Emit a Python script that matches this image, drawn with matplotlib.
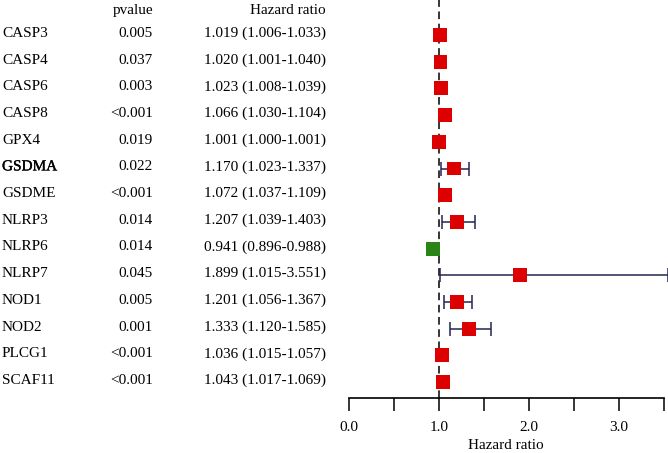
import matplotlib
matplotlib.use("Agg")
import matplotlib.pyplot as plt
import matplotlib.transforms as mtransforms
import matplotlib.patheffects as pe
import numpy as np

genes = ["CASP3", "CASP4", "CASP6", "CASP8", "GPX4", "GSDMA", "GSDME",
         "NLRP3", "NLRP6", "NLRP7", "NOD1", "NOD2", "PLCG1", "SCAF11"]
pvalues = ["0.005", "0.037", "0.003", "<0.001", "0.019", "0.022", "<0.001",
           "0.014", "0.014", "0.045", "0.005", "0.001", "<0.001", "<0.001"]
hr = [1.019, 1.020, 1.023, 1.066, 1.001, 1.170, 1.072,
      1.207, 0.941, 1.899, 1.201, 1.333, 1.036, 1.043]
hr_low = [1.006, 1.001, 1.008, 1.030, 1.000, 1.023, 1.037,
          1.039, 0.896, 1.015, 1.056, 1.120, 1.015, 1.017]
hr_high = [1.033, 1.040, 1.039, 1.104, 1.001, 1.337, 1.109,
           1.403, 0.988, 3.551, 1.367, 1.585, 1.057, 1.069]

plt.rcParams['font.family'] = ['Liberation Serif', 'DejaVu Serif']
fs = 11

fig = plt.figure(figsize=(6.68, 4.53), dpi=100)
W, H = 668, 453
ax = fig.add_axes([348.7 / W, 55 / H, 315 / W, 398 / H])

y = np.arange(len(genes))
# pixel row p = 35 + 26.7*i
ax.set_ylim((398 - 35) / 26.7, (0 - 35) / 26.7)
ax.set_xlim(0, 3.5)

# reference line at HR = 1
ax.plot([1, 1], [(398 - 35) / 26.7, (0 - 35) / 26.7], color='black',
        lw=1.1, ls=(0, (5, 3)), zorder=1)

hr_a = np.array(hr)
err = [hr_a - np.array(hr_low), np.array(hr_high) - hr_a]
ax.errorbar(hr_a, y, xerr=err, fmt='none', ecolor='#25254f', elinewidth=1.1,
            capsize=5, capthick=1.1, zorder=2, clip_on=False)
colors = ['#2a8416' if h < 1 else '#dc0000' for h in hr]
ax.scatter(hr_a, y, marker='s', s=100, c=colors, zorder=3, clip_on=False,
           linewidths=0)

for s in ['top', 'right', 'left']:
    ax.spines[s].set_visible(False)
ax.spines['bottom'].set_linewidth(1.2)
ax.set_yticks([])
ax.set_xticks([0, 1, 2, 3])
ax.set_xticklabels(['0.0', '1.0', '2.0', '3.0'])
ax.set_xticks([0.5, 1.5, 2.5, 3.5], minor=True)
ax.tick_params(axis='x', which='both', length=9.5, width=1.1, direction='out',
               labelsize=fs, pad=7)
ax.set_xlabel('Hazard ratio', fontsize=fs, labelpad=4)

trans = mtransforms.blended_transform_factory(fig.transFigure, ax.transData)
head_y = (10 - 35) / 26.7
fig.text(153 / W, head_y, 'pvalue', transform=trans, ha='right', va='center', fontsize=fs)
fig.text(326 / W, head_y, 'Hazard ratio', transform=trans, ha='right', va='center', fontsize=fs)

for i, g in enumerate(genes):
    yy = i - 0.06
    t = fig.text(2 / W, yy, g, transform=trans, ha='left', va='center', fontsize=fs)
    if g == 'GSDMA':
        t.set_path_effects([pe.withStroke(linewidth=0.25, foreground='black')])
    fig.text(153 / W, yy, pvalues[i], transform=trans, ha='right', va='center', fontsize=fs)
    lab = '%.3f (%.3f-%.3f)' % (hr[i], hr_low[i], hr_high[i])
    fig.text(326 / W, yy, lab, transform=trans, ha='right', va='center', fontsize=fs)

fig.savefig('out.png', dpi=100)
